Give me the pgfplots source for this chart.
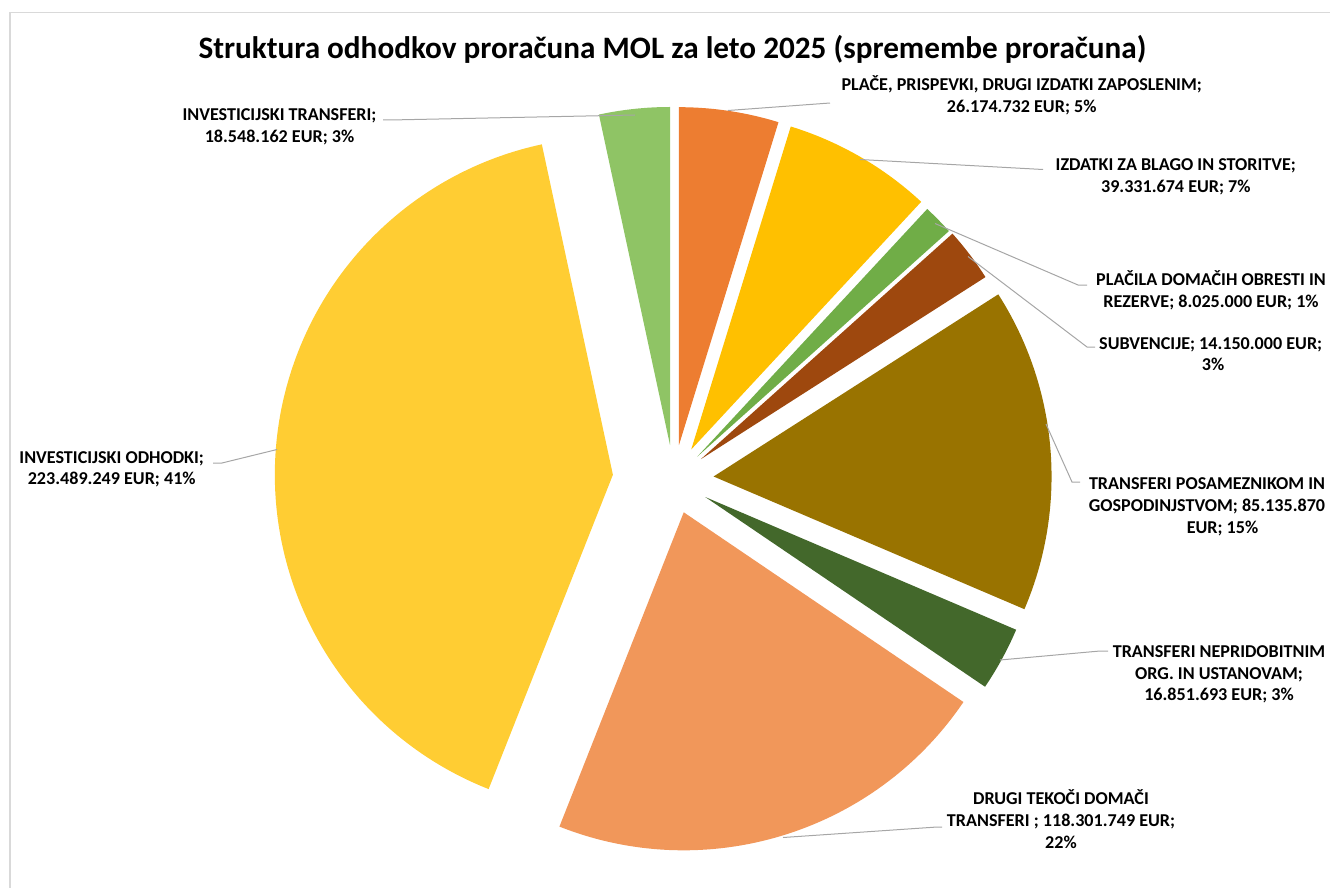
\documentclass[border=0pt]{standalone}
\usepackage{fontspec}
\setmainfont{Carlito}
\usepackage{pgfplots}
\usepackage{pgfplotstable}
\pgfplotsset{compat=1.18}

% slice colours, clockwise from 12 o'clock
\definecolor{slice0}{HTML}{ED7D31}
\definecolor{slice1}{HTML}{FFC000}
\definecolor{slice2}{HTML}{70AD47}
\definecolor{slice3}{HTML}{9E480E}
\definecolor{slice4}{HTML}{997300}
\definecolor{slice5}{HTML}{43682B}
\definecolor{slice6}{HTML}{F1975A}
\definecolor{slice7}{HTML}{FFCD33}
\definecolor{slice8}{HTML}{8FC465}
\definecolor{leader}{HTML}{A6A6A6}
\definecolor{frame}{HTML}{D9D9D9}

% value in EUR, explosion in px
\pgfplotstableread{
value explode
26174732 35
39331674 35
8025000 33
14150000 34
85135870 40
16851693 36
118301749 34
223489249 61
18548162 35
}\budget

\newcommand\lbl[4][base]{\node[anchor=#1,inner sep=0pt] at (axis cs:#2,#3) {#4};}

\begin{document}
\begin{tikzpicture}
% angles of the slices
\def\total{0}
\pgfplotsforeachungrouped \i in {0,...,8}{%
  \pgfplotstablegetelem{\i}{value}\of\budget
  \xdef\total{\fpeval{\total+\pgfplotsretval}}}
\def\cum{0}
\pgfplotsforeachungrouped \i in {0,...,8}{%
  \pgfplotstablegetelem{\i}{value}\of\budget \let\myval\pgfplotsretval
  \pgfplotstablegetelem{\i}{explode}\of\budget \let\myex\pgfplotsretval
  \expandafter\xdef\csname aS\i\endcsname{\fpeval{90-360*\cum/\total}}%
  \xdef\cum{\fpeval{\cum+\myval}}%
  \expandafter\xdef\csname aE\i\endcsname{\fpeval{90-360*\cum/\total}}%
  \expandafter\xdef\csname px\i\endcsname{\fpeval{673.7+\myex*cosd((\csname aS\i\endcsname+\csname aE\i\endcsname)/2)}}%
  \expandafter\xdef\csname py\i\endcsname{\fpeval{479.8-\myex*sind((\csname aS\i\endcsname+\csname aE\i\endcsname)/2)}}%
}

\useasboundingbox (0,0) rectangle (1330pt,888pt);
\clip (0,0) rectangle (1330pt,888pt);

\begin{axis}[at={(0,0)}, anchor=south west,
    scale only axis,
    width=1330pt, height=888pt,
    xmin=0, xmax=1330,
    ymin=0, ymax=888,
    y dir=reverse,
    hide axis,
    clip=false,
]

\draw[frame, line width=1.3pt] (axis cs:10,888) -- (axis cs:10,12.5) -- (axis cs:1330,12.5);

% slices
\pgfplotsinvokeforeach{0,...,8}{
  \edef\temp{\noexpand\fill[slice#1] (axis cs:\csname px#1\endcsname,\csname py#1\endcsname)
    -- ++(\csname aS#1\endcsname:338pt)
    arc[start angle=\csname aS#1\endcsname, end angle=\csname aE#1\endcsname, radius=338pt] -- cycle;}
  \temp
}

% leader lines
\draw[leader, line width=1pt] (axis cs:728,110.5) -- (axis cs:830,103);
\draw[leader, line width=1pt] (axis cs:860,159.5) -- (axis cs:1043,169.5);
\draw[leader, line width=1pt] (axis cs:935,223.5) -- (axis cs:1078,285) -- (axis cs:1087,285);
\draw[leader, line width=1pt] (axis cs:968,256.5) -- (axis cs:1087,347) -- (axis cs:1095,347);
\draw[leader, line width=1pt] (axis cs:1046,424) -- (axis cs:1072,482) -- (axis cs:1080,482);
\draw[leader, line width=1pt] (axis cs:1000,660) -- (axis cs:1100,651) -- (axis cs:1108,651);
\draw[leader, line width=1pt] (axis cs:783,837.5) -- (axis cs:937,827) -- (axis cs:942,827);
\draw[leader, line width=1pt] (axis cs:213,463) -- (axis cs:222,463) -- (axis cs:277,449.5);
\draw[leader, line width=1pt] (axis cs:383,120) -- (axis cs:390,120) -- (axis cs:635,115);

% title
\node[anchor=base, inner sep=0pt, font=\fontsize{31.2}{37}\selectfont\bfseries]
  at (axis cs:672.5,58.3) {Struktura odhodkov proračuna MOL za leto 2025 (spremembe proračuna)};

% data labels
\begin{scope}[font=\fontsize{18.1}{22}\selectfont\bfseries]
\lbl{1021.7}{90.7}{PLAČE, PRISPEVKI, DRUGI IZDATKI ZAPOSLENIM;}
\lbl{1021.7}{112.4}{26.174.732 EUR; 5\%}
\lbl{1175.8}{170.7}{IZDATKI ZA BLAGO IN STORITVE;}
\lbl{1175.8}{192.4}{39.331.674 EUR; 7\%}
\lbl{1211}{285.7}{PLAČILA DOMAČIH OBRESTI IN}
\lbl{1211}{307.4}{REZERVE; 8.025.000 EUR; 1\%}
\lbl[base west]{1099}{349}{SUBVENCIJE; 14.150.000 EUR;}
\lbl{1213}{370.7}{3\%}
\lbl{1207}{489.7}{TRANSFERI POSAMEZNIKOM IN}
\lbl{1207}{511.4}{GOSPODINJSTVOM; 85.135.870}
\lbl{1222.5}{533.1}{EUR; 15\%}
\lbl{1219}{657.4}{TRANSFERI NEPRIDOBITNIM}
\lbl{1219}{679.1}{ORG. IN USTANOVAM;}
\lbl{1219}{700.8}{16.851.693 EUR; 3\%}
\lbl{1061}{804.7}{DRUGI TEKOČI DOMAČI}
\lbl{1061}{826.4}{TRANSFERI ; 118.301.749 EUR;}
\lbl{1061}{848.1}{22\%}
\lbl{111.7}{463}{INVESTICIJSKI ODHODKI;}
\lbl{111.7}{484.7}{223.489.249 EUR; 41\%}
\lbl{279.5}{120.7}{INVESTICIJSKI TRANSFERI;}
\lbl{279.5}{142.4}{18.548.162 EUR; 3\%}
\end{scope}

\end{axis}
\end{tikzpicture}
\end{document}
